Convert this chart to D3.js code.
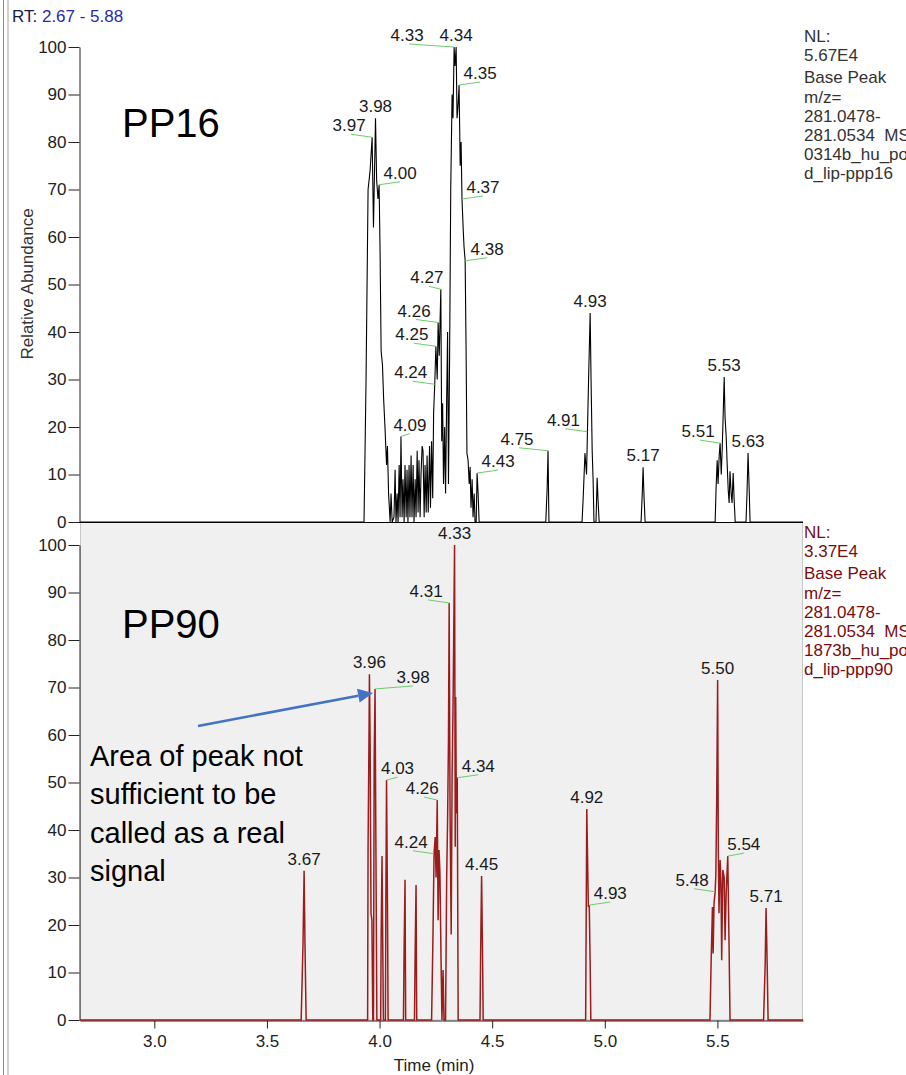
<!DOCTYPE html>
<html><head><meta charset="utf-8">
<script src="https://cdn.jsdelivr.net/npm/d3@7"></script>
<style>
html,body{margin:0;padding:0;background:#fff;overflow:hidden}
svg{display:block}
text{font-family:"Liberation Sans",Arial,sans-serif}
</style></head><body>
<svg id="c" width="906" height="1075"></svg>
<script>
// ---------------- data ----------------
const rtRange = [2.67, 5.88];
const xTickLabels = [3.0, 3.5, 4.0, 4.5, 5.0, 5.5];
const yTickLabels = [0, 10, 20, 30, 40, 50, 60, 70, 80, 90, 100];

// PP16 chromatogram: [retention time (min), relative abundance (%)]
const pp16Trace = [[2.67,0],[3.931,0],[3.940,30],[3.949,70],[3.958,74],[3.967,81],[3.973,62],[3.982,85],[3.987,72],[3.993,68],[3.998,71],[4.002,58],[4.007,36],[4.013,33],[4.018,26],[4.024,20],[4.031,12],[4.035,16],[4.040,6],[4.047,0],[4.051,6],[4.056,0],[4.064,1],[4.069,11],[4.073,0],[4.078,6],[4.082,0],[4.087,12],[4.091,1],[4.095,18],[4.100,1],[4.104,9],[4.109,0],[4.113,12],[4.118,1],[4.122,11],[4.126,0],[4.131,12],[4.135,1],[4.140,14],[4.144,1],[4.149,12],[4.153,0],[4.158,9],[4.162,1],[4.167,15],[4.171,2],[4.175,13],[4.180,1],[4.184,10],[4.189,16],[4.193,15],[4.198,1],[4.202,12],[4.207,2],[4.211,14],[4.216,2],[4.222,16],[4.226,3],[4.231,17],[4.236,5],[4.240,23],[4.245,29],[4.250,37],[4.256,30],[4.260,42],[4.265,35],[4.272,49],[4.276,17],[4.280,25],[4.284,8],[4.289,20],[4.293,6],[4.298,26],[4.302,40],[4.306,8],[4.311,35],[4.316,70],[4.322,90],[4.326,85],[4.331,100],[4.335,96],[4.340,100],[4.344,85],[4.349,88],[4.353,92],[4.358,75],[4.362,80],[4.366,68],[4.371,62],[4.375,58],[4.380,55],[4.384,37],[4.388,14.5],[4.393,13],[4.398,8],[4.402,11.6],[4.406,3],[4.411,9],[4.415,1],[4.420,6],[4.424,0],[4.429,0],[4.433,10.3],[4.437,6.7],[4.442,0],[4.738,0],[4.744,7],[4.748,15],[4.752,0],[4.899,0],[4.904,5],[4.912,14.5],[4.919,10],[4.923,19],[4.928,30],[4.935,44],[4.939,30],[4.944,15],[4.948,9],[4.952,0],[4.961,0],[4.966,9.3],[4.970,4.6],[4.975,0],[5.161,0],[5.166,5.5],[5.170,11.5],[5.174,5.5],[5.179,0],[5.490,0],[5.494,7],[5.499,13],[5.503,8],[5.508,14],[5.512,16.6],[5.517,10],[5.521,15],[5.525,21.5],[5.530,30.5],[5.534,22],[5.539,18],[5.543,12.6],[5.548,6.7],[5.552,4],[5.556,10.7],[5.561,6],[5.565,4],[5.570,10.3],[5.574,5],[5.579,0],[5.627,0],[5.632,7],[5.636,14.5],[5.641,7],[5.645,0],[5.88,0]];

// PP90 chromatogram
const pp90Trace = [[2.67,0],[3.652,0],[3.660,15.8],[3.665,31.4],[3.669,15.5],[3.674,0],[3.947,0],[3.949,36.5],[3.953,59],[3.955,72.8],[3.958,59],[3.962,22.5],[3.966,21],[3.970,0],[3.973,0],[3.976,55],[3.980,69.7],[3.984,34.4],[3.988,0],[4.005,0],[4.007,17.2],[4.011,34.5],[4.014,17],[4.017,0],[4.026,0],[4.028,25],[4.031,50.5],[4.035,25],[4.038,0],[4.106,0],[4.109,14.7],[4.113,29.5],[4.116,0],[4.155,0],[4.158,14],[4.162,28.4],[4.165,0],[4.231,0],[4.237,17.3],[4.242,35],[4.247,38.5],[4.251,30],[4.256,46.3],[4.260,21],[4.264,35.8],[4.268,31],[4.273,12.6],[4.277,0],[4.282,10.5],[4.286,0],[4.293,0],[4.298,30],[4.302,42],[4.306,59],[4.309,87.8],[4.313,43.5],[4.318,18],[4.322,51],[4.326,65],[4.333,100],[4.336,36.5],[4.338,68],[4.341,43.5],[4.345,51],[4.349,0],[4.446,0],[4.449,15.2],[4.453,30.3],[4.457,15],[4.460,0],[4.915,0],[4.920,44.4],[4.927,23.8],[4.931,24.2],[4.935,12],[4.938,0],[5.467,0],[5.472,12],[5.478,23.8],[5.481,14],[5.485,24.6],[5.490,27],[5.493,30.5],[5.497,47],[5.501,71.6],[5.504,35.8],[5.507,22.5],[5.512,33.7],[5.516,28.8],[5.519,12.6],[5.524,31.6],[5.530,30],[5.534,16.8],[5.539,27],[5.546,34.5],[5.552,14.7],[5.556,0],[5.705,0],[5.712,11.6],[5.716,23.6],[5.721,11.6],[5.725,0],[5.88,0]];

// peak labels: [text, rt of apex, abundance of apex]
const pp16Peaks = [["3.97",3.967,81],["3.98",3.982,85],["4.00",3.998,71],["4.09",4.095,18],["4.24",4.245,29],["4.25",4.250,37],["4.26",4.260,42],["4.27",4.272,49],["4.33",4.331,100],["4.34",4.340,100],["4.35",4.353,92],["4.37",4.366,68],["4.38",4.380,55],["4.43",4.433,10.3],["4.75",4.748,15],["4.91",4.923,19],["4.93",4.935,44],["5.17",5.170,11.5],["5.51",5.512,16.6],["5.53",5.530,30.5],["5.63",5.636,14.5]];
const pp90Peaks = [["3.67",3.665,31.4],["3.96",3.955,72.8],["3.98",3.980,69.7],["4.03",4.031,50.5],["4.24",4.242,35],["4.26",4.256,46.3],["4.31",4.309,87.8],["4.33",4.333,100],["4.34",4.345,51],["4.45",4.453,30.3],["4.92",4.920,44.4],["4.93",4.931,24.2],["5.48",5.490,27],["5.50",5.501,71.6],["5.54",5.546,34.5],["5.71",5.716,23.6]];

const pp16Info = ["NL:", "5.67E4", "Base Peak", "m/z=", "281.0478-", "281.0534\u00a0\u00a0MS", "0314b_hu_po", "d_lip-ppp16"];
const pp90Info = ["NL:", "3.37E4", "Base Peak", "m/z=", "281.0478-", "281.0534\u00a0\u00a0MS", "1873b_hu_po", "d_lip-ppp90"];
const noteLines = ["Area of peak not", "sufficient to be", "called as a real", "signal"];

// ---------------- layout (label placement: side, leader length px) ----------------
const pp16Place = {"3.97":["L",21],"3.98":["T"],"4.00":["R",21],"4.09":["R",9],"4.24":["L",22],"4.25":["L",22],"4.26":["L",22],"4.27":["L",12],"4.33":["L",45],"4.34":["T"],"4.35":["R",21],"4.37":["R",21],"4.38":["R",22],"4.43":["R",21],"4.75":["L",29],"4.91":["L",22],"4.93":["T"],"5.17":["T"],"5.51":["L",20],"5.53":["T"],"5.63":["T"]};
const pp90Place = {"3.67":["T"],"3.96":["T"],"3.98":["R",38],"4.03":["R",11],"4.24":["L",21],"4.26":["L",13],"4.31":["L",21],"4.33":["T"],"4.34":["R",21],"4.45":["T"],"4.92":["T"],"4.93":["R",21],"5.48":["L",21],"5.50":["T"],"5.54":["R",16],"5.71":["T"]};

const svg = d3.select("#c");
const x = d3.scaleLinear().domain(rtRange).range([80, 803]);
const yTop = d3.scaleLinear().domain([0, 100]).range([522, 47]);
const yBot = d3.scaleLinear().domain([0, 100]).range([1020, 545]);

// window border at left
svg.append("line").attr("x1",3.5).attr("x2",3.5).attr("y1",0).attr("y2",1075).attr("stroke","#8a8a8a").attr("stroke-width",1);
svg.append("line").attr("x1",8).attr("x2",8).attr("y1",0).attr("y2",1075).attr("stroke","#d0d0d0").attr("stroke-width",2);

// RT header
const rt = svg.append("text").attr("x",12).attr("y",22).attr("font-size",17);
rt.append("tspan").attr("fill","#1a1a40").text("RT: ");
rt.append("tspan").attr("fill","#2a2aa8").text(rtRange[0].toFixed(2) + " - " + rtRange[1].toFixed(2));

// bottom panel background
svg.append("rect").attr("x",80.5).attr("y",522.5).attr("width",722).attr("height",497.5)
  .attr("fill","#f0f0f0").attr("stroke","#c8c8c8");

function yAxis(scale) {
  const g = svg.append("g").attr("transform","translate(79.5,0)");
  g.call(d3.axisLeft(scale).tickValues(d3.range(0,101,2)).tickSize(6).tickSizeOuter(0).tickFormat(""));
  g.call(d3.axisLeft(scale).tickValues(yTickLabels).tickSize(11).tickSizeOuter(0).tickPadding(2).tickFormat(d3.format("d")));
  g.selectAll("text").attr("font-size",17).attr("font-family","Liberation Sans, Arial, sans-serif").attr("fill","#222");
  g.selectAll("line,path").attr("stroke","#222");
}
yAxis(yTop);
yAxis(yBot);

// top baseline
svg.append("line").attr("x1",79).attr("x2",803).attr("y1",522.5).attr("y2",522.5).attr("stroke","#000");

// x axis (bottom)
const gx = svg.append("g").attr("transform","translate(0,1020.5)");
const minorT = d3.range(134, 295).map(i => i / 50).filter(v => v >= rtRange[0] && v <= rtRange[1]);
const midT = d3.range(27, 59).map(i => i / 10).filter(v => v >= rtRange[0] && v <= rtRange[1]);
gx.call(d3.axisBottom(x).tickValues(minorT).tickSize(3).tickSizeOuter(0).tickFormat(""));
gx.call(d3.axisBottom(x).tickValues(midT).tickSize(5).tickSizeOuter(0).tickFormat(""));
gx.call(d3.axisBottom(x).tickValues(xTickLabels).tickSize(8).tickSizeOuter(0).tickPadding(6).tickFormat(d3.format(".1f")));
gx.selectAll("text").attr("font-size",17).attr("font-family","Liberation Sans, Arial, sans-serif").attr("fill","#222");
gx.selectAll("line,path").attr("stroke","#222");
svg.append("text").attr("x",434).attr("y",1071).attr("text-anchor","middle").attr("font-size",17).attr("fill","#222").text("Time (min)");

// y label
svg.append("text").attr("transform","translate(33,284) rotate(-90)").attr("text-anchor","middle")
  .attr("font-size",17).attr("fill","#333").text("Relative Abundance");

// traces
const lineTop = d3.line().x(d => x(d[0])).y(d => yTop(d[1]));
const lineBot = d3.line().x(d => x(d[0])).y(d => yBot(d[1]));
svg.append("path").attr("d", lineTop(pp16Trace)).attr("fill","none").attr("stroke","#000").attr("stroke-width",1.1);
svg.append("path").attr("d", lineBot(pp90Trace)).attr("fill","none").attr("stroke","#9b1c1c").attr("stroke-width",1.5);

// peak labels
function peakLabels(peaks, place, ys) {
  const g = svg.append("g");
  peaks.forEach(([txt, t, v]) => {
    const px = x(t), py = ys(v);
    const p = place[txt] || ["T"];
    let tx = px, ty = py - 6;
    if (p[0] === "L" || p[0] === "R") {
      const sgn = p[0] === "L" ? -1 : 1;
      const ex = px + sgn * p[1], ey = py - 3;
      g.append("line").attr("x1",px).attr("y1",py).attr("x2",ex).attr("y2",ey)
        .attr("stroke","#6ccc6c").attr("stroke-width",1);
      tx = ex + (p[0] === "L" ? -2 : 0); ty = py - 6;
    }
    g.append("text").attr("x",tx).attr("y",ty).attr("text-anchor","middle")
      .attr("font-size",17).attr("fill","#1a1a1a").text(txt);
  });
}
peakLabels(pp16Peaks, pp16Place, yTop);
peakLabels(pp90Peaks, pp90Place, yBot);

// info text at right
function info(lines, y0, color) {
  lines.forEach((s, i) => {
    svg.append("text").attr("x",804).attr("y", y0 + i * 19.2 + (i >= 2 ? 3 : 0))
      .attr("font-size",17).attr("fill",color).text(s);
  });
}
info(pp16Info, 42, "#333");
info(pp90Info, 538, "#7a0c0c");

// panel names
svg.append("text").attr("x",122).attr("y",137).attr("font-family","Lato, 'Open Sans', sans-serif").attr("font-size",40).attr("fill","#000").text("PP16");
svg.append("text").attr("x",122).attr("y",638).attr("font-family","Lato, 'Open Sans', sans-serif").attr("font-size",40).attr("fill","#000").text("PP90");

// annotation
noteLines.forEach((s, i) => {
  svg.append("text").attr("x",90).attr("y",766 + i * 38.3).attr("font-family","Lato, 'Open Sans', sans-serif")
    .attr("font-size",29).attr("fill","#000").text(s);
});
// arrow pointing to PP90 3.98 peak
{
  const tip = [x(3.980) - 2, yBot(69.7) + 4];
  const start = [198, 726];
  const dx = tip[0] - start[0], dy = tip[1] - start[1], L = Math.hypot(dx, dy);
  const ux = dx / L, uy = dy / L, hl = 15, hw = 7;
  const base = [tip[0] - ux * hl, tip[1] - uy * hl];
  svg.append("line").attr("x1",start[0]).attr("y1",start[1]).attr("x2",base[0]).attr("y2",base[1])
    .attr("stroke","#4472c4").attr("stroke-width",2.6);
  svg.append("path").attr("d", `M${tip[0]},${tip[1]}L${base[0] - uy*hw},${base[1] + ux*hw}L${base[0] + uy*hw},${base[1] - ux*hw}Z`)
    .attr("fill","#4472c4");
}
</script>
</body></html>
